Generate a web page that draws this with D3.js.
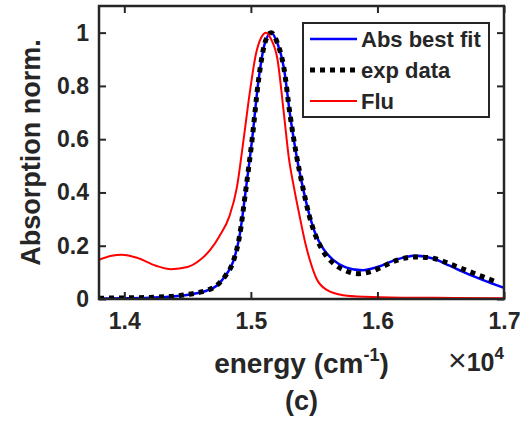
<!DOCTYPE html>
<html>
<head>
<style>
  body { margin: 0; background: #fff; }
  text { font-family: "Liberation Sans", Arial, sans-serif; font-weight: bold; fill: #262626; }
</style>
</head>
<body>
<svg width="527" height="421"></svg>
<script src="https://d3js.org/d3.v7.min.js"></script>
<script>

// tick values
var xTicks = [14000, 15000, 16000, 17000];
var xTickLabels = ["1.4", "1.5", "1.6", "1.7"];
var yTicks = [0, 0.2, 0.4, 0.6, 0.8, 1];
var yTickLabels = ["0", "0.2", "0.4", "0.6", "0.8", "1"];

// Abs best fit
var fitEnergy = [13800, 14000, 14200, 14400, 14550, 14650, 14730, 14800, 14860, 14910, 14960, 15010, 15060, 15110, 15160, 15210, 15260, 15310, 15360, 15410, 15460, 15510, 15570, 15650, 15750, 15880, 16020, 16150, 16300, 16440, 16570, 16700, 16830, 17000];
var fitValues = [0.002, 0.003, 0.005, 0.010, 0.020, 0.031, 0.050, 0.088, 0.14, 0.235, 0.41, 0.60, 0.82, 0.96, 1.0, 0.96, 0.87, 0.69, 0.54, 0.42, 0.32, 0.245, 0.19, 0.147, 0.119, 0.108, 0.123, 0.148, 0.162, 0.152, 0.125, 0.097, 0.072, 0.042];

// exp data
var expEnergy = [13800, 14000, 14200, 14400, 14550, 14650, 14730, 14800, 14860, 14910, 14960, 15010, 15060, 15110, 15160, 15210, 15260, 15310, 15360, 15410, 15460, 15510, 15570, 15650, 15750, 15850, 15950, 16050, 16150, 16300, 16440, 16570, 16700, 16830, 16950];
var expValues = [0.003, 0.004, 0.006, 0.011, 0.021, 0.032, 0.051, 0.088, 0.14, 0.235, 0.41, 0.60, 0.82, 0.96, 1.0, 0.96, 0.87, 0.69, 0.54, 0.42, 0.315, 0.24, 0.18, 0.135, 0.106, 0.095, 0.103, 0.124, 0.145, 0.158, 0.153, 0.132, 0.108, 0.084, 0.062];

// Flu
var fluEnergy = [13800, 13900, 13980, 14100, 14250, 14370, 14500, 14600, 14680, 14750, 14830, 14890, 14940, 14990, 15040, 15080, 15120, 15160, 15210, 15260, 15300, 15340, 15390, 15430, 15470, 15520, 15600, 15730, 15900, 16200, 16600, 17000];
var fluValues = [0.147, 0.162, 0.166, 0.155, 0.125, 0.112, 0.12, 0.147, 0.185, 0.235, 0.31, 0.42, 0.59, 0.77, 0.92, 0.98, 1.0, 0.975, 0.90, 0.70, 0.53, 0.42, 0.30, 0.21, 0.14, 0.075, 0.034, 0.014, 0.008, 0.005, 0.004, 0.003];

var legendLabels = ["Abs best fit", "exp data", "Flu"];

var svg = d3.select("svg"),
  margin = { top: 6, right: 23, bottom: 122, left: 99 },
  width = +svg.attr("width") - margin.left - margin.right,
  height = +svg.attr("height") - margin.top - margin.bottom,
  g = svg.append("g").attr("transform", "translate(" + margin.left + "," + margin.top + ")");

var x = d3.scaleLinear().domain([13800, 17000]).range([0, width]);
var y = d3.scaleLinear().domain([0, 1.1]).range([height, 0]);

var line = d3.line()
  .x(function(d) { return x(d[0]); })
  .y(function(d) { return y(d[1]); })
  .curve(d3.curveMonotoneX);

function pairs(a, b) {
  return a.map(function(v, i) { return [v, b[i]]; });
}

svg.append("clipPath").attr("id", "clip")
  .append("rect").attr("width", width).attr("height", height);

var plot = g.append("g").attr("clip-path", "url(#clip)");

plot.append("path")
  .attr("d", line(pairs(fitEnergy, fitValues)))
  .attr("fill", "none")
  .attr("stroke", "#0000ff")
  .attr("stroke-width", 2.5);

plot.append("path")
  .attr("d", line(pairs(expEnergy, expValues)))
  .attr("fill", "none")
  .attr("stroke", "#000")
  .attr("stroke-width", 5)
  .attr("stroke-dasharray", "5,5");

plot.append("path")
  .attr("d", line(pairs(fluEnergy, fluValues)))
  .attr("fill", "none")
  .attr("stroke", "#ff0000")
  .attr("stroke-width", 2);

// axes, ticks inward on all four sides
var tickLen = 7;
var axisColor = "#262626";

g.append("g")
  .attr("transform", "translate(0," + height + ")")
  .call(d3.axisBottom(x).tickValues(xTicks).tickSize(-tickLen).tickPadding(14)
    .tickFormat(function(d, i) { return xTickLabels[i]; }))
  .call(function(a) {
    a.select(".domain").remove();
    a.selectAll("line").attr("stroke", axisColor).attr("stroke-width", 2);
    a.selectAll("text").attr("font-size", 23).attr("fill", axisColor);
  });

g.append("g")
  .call(d3.axisTop(x).tickValues(xTicks).tickSize(-tickLen).tickFormat(""))
  .call(function(a) {
    a.select(".domain").remove();
    a.selectAll("line").attr("stroke", axisColor).attr("stroke-width", 2);
  });

g.append("g")
  .call(d3.axisLeft(y).tickValues(yTicks).tickSize(-tickLen).tickPadding(10)
    .tickFormat(function(d, i) { return yTickLabels[i]; }))
  .call(function(a) {
    a.select(".domain").remove();
    a.selectAll("line").attr("stroke", axisColor).attr("stroke-width", 2);
    a.selectAll("text").attr("font-size", 23).attr("fill", axisColor);
  });

g.append("g")
  .attr("transform", "translate(" + width + ",0)")
  .call(d3.axisRight(y).tickValues(yTicks).tickSize(-tickLen).tickFormat(""))
  .call(function(a) {
    a.select(".domain").remove();
    a.selectAll("line").attr("stroke", axisColor).attr("stroke-width", 2);
  });

g.append("rect")
  .attr("width", width)
  .attr("height", height)
  .attr("fill", "none")
  .attr("stroke", axisColor)
  .attr("stroke-width", 2.5);

// labels
g.append("text")
  .attr("transform", "translate(-59," + (height / 2) + ") rotate(-90)")
  .attr("text-anchor", "middle")
  .attr("font-size", 27)
  .text("Absorption norm.");

var xl = g.append("text")
  .attr("x", width / 2)
  .attr("y", height + 74)
  .attr("text-anchor", "middle")
  .attr("font-size", 28);
xl.append("tspan").text("energy (cm");
xl.append("tspan").attr("font-size", 18).attr("dy", -12).text("-1");
xl.append("tspan").attr("dy", 12).text(")");

var ex = g.append("text")
  .attr("x", width)
  .attr("y", height + 72)
  .attr("text-anchor", "end")
  .attr("font-size", 25);
ex.append("tspan").attr("font-weight", "normal").attr("font-size", 32).text("\u00d7");
ex.append("tspan").text("10");
ex.append("tspan").attr("font-size", 17).attr("dy", -12).text("4");

g.append("text")
  .attr("x", width / 2)
  .attr("y", height + 111)
  .attr("text-anchor", "middle")
  .attr("font-size", 27)
  .text("(c)");

// legend
var legend = g.append("g").attr("transform", "translate(204,17)");

legend.append("rect")
  .attr("width", 186)
  .attr("height", 94)
  .attr("fill", "#fff")
  .attr("stroke", axisColor)
  .attr("stroke-width", 2);

var styles = [
  { stroke: "#0000ff", width: 2.5, dash: null },
  { stroke: "#000", width: 5, dash: "5,5" },
  { stroke: "#ff0000", width: 2, dash: null }
];

var rows = legend.selectAll(".row")
  .data(legendLabels)
  .enter().append("g")
  .attr("transform", function(d, i) { return "translate(0," + (16 + i * 31) + ")"; });

rows.append("line")
  .attr("x1", 7)
  .attr("x2", 54)
  .attr("stroke", function(d, i) { return styles[i].stroke; })
  .attr("stroke-width", function(d, i) { return styles[i].width; })
  .attr("stroke-dasharray", function(d, i) { return styles[i].dash; });

rows.append("text")
  .attr("x", 58)
  .attr("dy", "0.35em")
  .attr("font-size", 22)
  .attr("fill", "#000")
  .text(function(d) { return d; });

</script>
</body>
</html>
